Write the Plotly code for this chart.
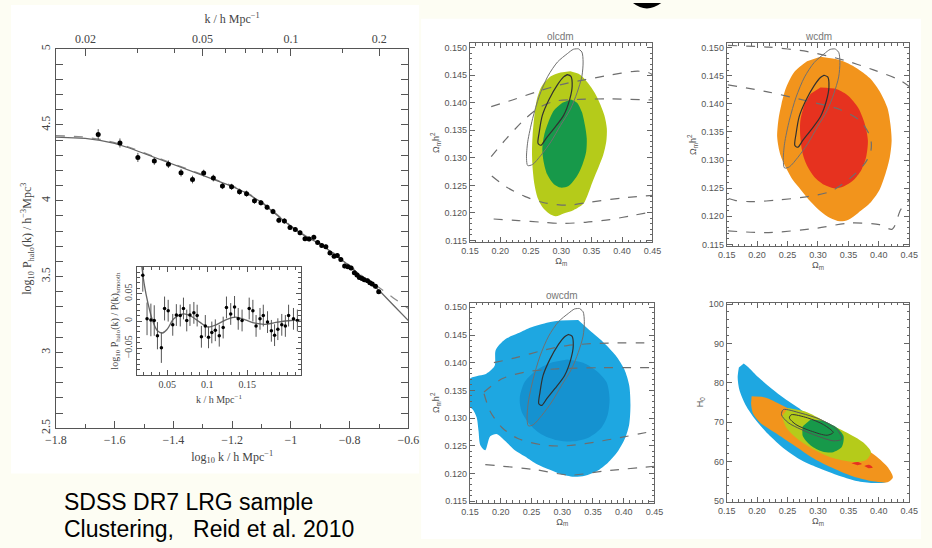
import plotly.graph_objects as go

W, H = 932, 548
def px(x): return x / W
def py(y): return 1 - y / H

# ---------------- main power spectrum panel ----------------
logk = [-1.656, -1.582, -1.521, -1.465, -1.417, -1.374, -1.335, -1.297, -1.264, -1.233,
        -1.202, -1.175, -1.151, -1.124, -1.102, -1.081, -1.061, -1.041, -1.022, -1.003,
        -0.985, -0.969, -0.952, -0.938, -0.922, -0.909, -0.895, -0.881, -0.867, -0.853,
        -0.842, -0.830, -0.817, -0.806, -0.795, -0.784, -0.775, -0.767, -0.758, -0.750,
        -0.739, -0.731, -0.723, -0.712, -0.701]
logP = [4.437, 4.381, 4.286, 4.262, 4.241, 4.185, 4.140, 4.183, 4.150, 4.097,
        4.092, 4.060, 4.047, 4.000, 3.987, 3.957, 3.929, 3.871, 3.867, 3.824,
        3.811, 3.789, 3.750, 3.748, 3.759, 3.725, 3.705, 3.697, 3.656, 3.634,
        3.639, 3.613, 3.570, 3.566, 3.557, 3.526, 3.510, 3.494, 3.488, 3.479,
        3.473, 3.460, 3.451, 3.436, 3.401]
errP = [0.035, 0.03, 0.03, 0.025, 0.025, 0.025, 0.025, 0.022, 0.022, 0.02,
        0.02, 0.02, 0.02, 0.02, 0.018, 0.018, 0.018, 0.018, 0.018, 0.016,
        0.016, 0.016, 0.016, 0.016, 0.016, 0.015, 0.015, 0.015, 0.015, 0.015,
        0.015, 0.015, 0.015, 0.015, 0.015, 0.015, 0.015, 0.015, 0.015, 0.015,
        0.015, 0.015, 0.015, 0.015, 0.015]

model_logk = [-1.80, -1.75, -1.70, -1.65, -1.60, -1.55, -1.50, -1.45, -1.40, -1.35, -1.30,
              -1.25, -1.20, -1.15, -1.10, -1.05, -1.00, -0.95, -0.90, -0.85, -0.80,
              -0.75, -0.70, -0.65, -0.60]
model_solid = [4.420, 4.418, 4.412, 4.398, 4.378, 4.348, 4.312, 4.275, 4.238, 4.200, 4.164,
               4.130, 4.095, 4.050, 3.990, 3.910, 3.830, 3.765, 3.715, 3.645, 3.570,
               3.485, 3.410, 3.310, 3.210]
model_dashed = [4.430, 4.427, 4.420, 4.405, 4.384, 4.353, 4.317, 4.279, 4.242, 4.204, 4.168,
                4.134, 4.099, 4.054, 3.994, 3.914, 3.834, 3.769, 3.719, 3.649, 3.574,
                3.492, 3.428, 3.358, 3.290]

top_k_ticks = [0.02, 0.05, 0.1, 0.2]
top_k_minor = [0.015, 0.03, 0.04, 0.06, 0.07, 0.08, 0.09, 0.15]

# inset (BAO wiggles)
ins_k = [0.0195, 0.0248, 0.0296, 0.0338, 0.0378, 0.0427, 0.0467, 0.0512, 0.0569, 0.0614,
         0.0663, 0.0703, 0.0744, 0.0784, 0.0833, 0.0874, 0.0927, 0.0976, 0.1016, 0.1057,
         0.1101, 0.1150, 0.1199, 0.1240, 0.1293, 0.1341, 0.1387, 0.1435, 0.1524, 0.1570,
         0.1610, 0.1659, 0.1700, 0.1753, 0.1801, 0.1841, 0.1882, 0.1931, 0.1976, 0.2016,
         0.2077, 0.2126]
ins_v = [0.084, 0.004, 0.002, 0.001, -0.027, -0.049, 0.023, 0.019, -0.007, 0.011,
         0.010, 0.023, 0.001, 0.011, 0.015, 0.010, -0.029, -0.009, -0.030, -0.021,
         -0.017, -0.027, -0.012, 0.025, 0.013, 0.026, 0.004, 0.001, 0.023, 0.019,
         -0.009, 0.004, 0.010, -0.002, -0.018, -0.026, -0.015, -0.007, -0.009, 0.010,
         0.004, 0.001]
ins_e = [0.03, 0.03, 0.03, 0.028, 0.025, 0.028, 0.022, 0.02, 0.02, 0.02,
         0.02, 0.02, 0.02, 0.02, 0.02, 0.02, 0.02, 0.02, 0.02, 0.02,
         0.02, 0.02, 0.02, 0.02, 0.02, 0.02, 0.02, 0.02, 0.02, 0.02,
         0.02, 0.02, 0.02, 0.02, 0.02, 0.02, 0.02, 0.02, 0.02, 0.02,
         0.02, 0.02]
ins_model_k = [0.0175, 0.0216, 0.0256, 0.0317, 0.0378, 0.0439, 0.0500, 0.0582, 0.0703,
               0.0784, 0.0906, 0.1009, 0.1110, 0.1232, 0.1354, 0.1476, 0.1598, 0.1720,
               0.1882, 0.2045, 0.2167]
ins_model_v = [0.109, 0.065, 0.035, 0.001, -0.018, -0.022, -0.015, 0.004, 0.013,
               0.010, -0.002, -0.011, -0.007, 0.002, 0.007, 0.002, -0.004, -0.006,
               -0.002, 0.001, 0.002]

# ---------------- contour panels ----------------
# CMB-like reference contours (same in the three Omega_m h^2 panels)
cmb_outer_om = [0.328, 0.334, 0.336, 0.334, 0.326, 0.315, 0.299, 0.283, 0.267, 0.253,
                0.245, 0.243, 0.245, 0.253, 0.264, 0.278, 0.294, 0.310, 0.320, 0.328]
cmb_outer_w = [0.1498, 0.1492, 0.1474, 0.1448, 0.1418, 0.1388, 0.1359, 0.1329, 0.1305, 0.1288,
               0.1286, 0.1299, 0.1329, 0.1371, 0.1412, 0.1448, 0.1474, 0.1489, 0.1497, 0.1498]
cmb_inner_om = [0.310, 0.316, 0.318, 0.314, 0.304, 0.288, 0.275, 0.267, 0.262, 0.264,
                0.269, 0.280, 0.294, 0.304, 0.310]
cmb_inner_w = [0.1451, 0.1448, 0.1430, 0.1406, 0.1377, 0.1353, 0.1335, 0.1323, 0.1326, 0.1347,
               0.1377, 0.1406, 0.1433, 0.1447, 0.1451]

# olcdm
olcdm_2s_om = [0.315, 0.331, 0.344, 0.355, 0.363, 0.371, 0.375, 0.374, 0.369, 0.361, 0.352,
               0.344, 0.336, 0.320, 0.304, 0.291, 0.280, 0.269, 0.261, 0.256, 0.253, 0.252,
               0.253, 0.256, 0.260, 0.268, 0.283, 0.299]
olcdm_2s_w = [0.1457, 0.1451, 0.1436, 0.1418, 0.1400, 0.1377, 0.1353, 0.1329, 0.1305, 0.1282,
              0.1258, 0.1234, 0.1216, 0.1205, 0.1199, 0.1194, 0.1199, 0.1211, 0.1228, 0.1252,
              0.1282, 0.1311, 0.1341, 0.1377, 0.1406, 0.1430, 0.1448, 0.1455]
olcdm_1s_om = [0.316, 0.326, 0.334, 0.339, 0.342, 0.341, 0.335, 0.326, 0.312, 0.299, 0.288,
               0.277, 0.271, 0.269, 0.272, 0.279, 0.288, 0.302]
olcdm_1s_w = [0.1406, 0.1400, 0.1383, 0.1359, 0.1335, 0.1311, 0.1288, 0.1267, 0.1249, 0.1246,
              0.1252, 0.1270, 0.1294, 0.1317, 0.1341, 0.1365, 0.1386, 0.1400]
olcdm_dash = [
    ([0.185, 0.22, 0.26, 0.30, 0.34, 0.38, 0.42, 0.44, 0.45],
     [0.1393, 0.1405, 0.1420, 0.1433, 0.1442, 0.1450, 0.1457, 0.1456, 0.1451]),
    ([0.185, 0.21, 0.24, 0.265, 0.29, 0.33, 0.38, 0.45],
     [0.1302, 0.1335, 0.1370, 0.1392, 0.1403, 0.1406, 0.1407, 0.1405]),
    ([0.186, 0.21, 0.24, 0.27, 0.31, 0.35, 0.40, 0.45],
     [0.1267, 0.1247, 0.1230, 0.1219, 0.1214, 0.1220, 0.1227, 0.1232]),
    ([0.189, 0.23, 0.27, 0.30, 0.34, 0.38, 0.42, 0.45],
     [0.1189, 0.1186, 0.1183, 0.1181, 0.1183, 0.1188, 0.1196, 0.1202]),
]

# wcdm
wcdm_2s_om = [0.304, 0.336, 0.363, 0.385, 0.401, 0.414, 0.419, 0.421, 0.418, 0.411, 0.401,
              0.385, 0.366, 0.350, 0.336, 0.320, 0.304, 0.288, 0.272, 0.259, 0.248, 0.238,
              0.233, 0.235, 0.240, 0.248, 0.262, 0.282]
wcdm_2s_w = [0.1484, 0.1478, 0.1464, 0.1446, 0.1423, 0.1393, 0.1364, 0.1335, 0.1305, 0.1276,
             0.1247, 0.1223, 0.1206, 0.1194, 0.1191, 0.1197, 0.1209, 0.1226, 0.1247, 0.1264,
             0.1285, 0.1310, 0.1340, 0.1372, 0.1400, 0.1430, 0.1458, 0.1476]
wcdm_1s_om = [0.304, 0.331, 0.350, 0.366, 0.377, 0.382, 0.379, 0.371, 0.358, 0.342, 0.326,
              0.310, 0.294, 0.283, 0.275, 0.271, 0.271, 0.278, 0.288]
wcdm_1s_w = [0.1429, 0.1426, 0.1414, 0.1393, 0.1364, 0.1335, 0.1305, 0.1282, 0.1264, 0.1253,
             0.1250, 0.1256, 0.1270, 0.1288, 0.1311, 0.1341, 0.1370, 0.1399, 0.1418]
wcdm_dash = [
    ([0.152, 0.219, 0.283, 0.342, 0.390, 0.433, 0.450],
     [0.1504, 0.1501, 0.1493, 0.1478, 0.1461, 0.1443, 0.1431]),
    ([0.152, 0.219, 0.283, 0.336, 0.369, 0.386, 0.387, 0.377, 0.352, 0.320, 0.283, 0.235,
      0.192, 0.165, 0.152],
     [0.1434, 0.1421, 0.1405, 0.1390, 0.1370, 0.1341, 0.1317, 0.1294, 0.1267, 0.1244, 0.1235,
      0.1229, 0.1226, 0.1228, 0.1232]),
    ([0.152, 0.219, 0.299, 0.352, 0.401, 0.422, 0.436, 0.450],
     [0.1174, 0.1171, 0.1179, 0.1188, 0.1185, 0.1177, 0.1212, 0.1229]),
]

# owcdm
owcdm_2s_om = [0.326, 0.345, 0.366, 0.387, 0.401, 0.409, 0.411, 0.409, 0.402, 0.390, 0.374,
               0.356, 0.337, 0.319, 0.297, 0.279, 0.260, 0.239, 0.223, 0.207, 0.194, 0.183,
               0.175, 0.167, 0.164, 0.161, 0.155, 0.150, 0.150, 0.162, 0.175, 0.190, 0.192,
               0.207, 0.228, 0.250, 0.271, 0.297]
owcdm_2s_w = [0.1477, 0.1458, 0.1438, 0.1413, 0.1388, 0.1359, 0.1324, 0.1289, 0.1263, 0.1239,
              0.1219, 0.1204, 0.1196, 0.1194, 0.1199, 0.1207, 0.1216, 0.1231, 0.1242, 0.1259,
              0.1271, 0.1267, 0.1242, 0.1251, 0.1277, 0.1301, 0.1315, 0.1321, 0.1371, 0.1376,
              0.1379, 0.1394, 0.1423, 0.1442, 0.1453, 0.1464, 0.1471, 0.1476]
owcdm_1s_om = [0.308, 0.334, 0.356, 0.372, 0.377, 0.374, 0.364, 0.345, 0.319, 0.292, 0.266,
               0.247, 0.234, 0.231, 0.239, 0.260, 0.284]
owcdm_1s_w = [0.1406, 0.1400, 0.1385, 0.1365, 0.1336, 0.1306, 0.1283, 0.1266, 0.1258, 0.1260,
              0.1271, 0.1289, 0.1312, 0.1336, 0.1365, 0.1388, 0.1401]
owcdm_dash = [
    ([0.189, 0.228, 0.271, 0.308, 0.361, 0.450],
     [0.1400, 0.1410, 0.1423, 0.1431, 0.1435, 0.1436]),
    ([0.173, 0.202, 0.239, 0.292, 0.361, 0.450],
     [0.1347, 0.1371, 0.1383, 0.1389, 0.1391, 0.1391]),
    ([0.173, 0.183, 0.202, 0.228, 0.271, 0.308, 0.366, 0.450],
     [0.1344, 0.1312, 0.1283, 0.1263, 0.1251, 0.1250, 0.1259, 0.1277]),
    ([0.175, 0.255, 0.313, 0.366, 0.450],
     [0.1216, 0.1207, 0.1197, 0.1204, 0.1213]),
]

# H0 vs Omega_m panel
h0_blue_om = [0.178, 0.186, 0.202, 0.224, 0.245, 0.272, 0.299, 0.325, 0.352, 0.379, 0.406,
              0.419, 0.411, 0.390, 0.363, 0.331, 0.299, 0.272, 0.245, 0.218, 0.197, 0.181,
              0.171, 0.168, 0.170]
h0_blue_h = [84.9, 83.9, 81.4, 78.5, 76.0, 73.2, 69.9, 66.5, 63.2, 59.9, 57.0,
             55.8, 54.8, 54.6, 55.1, 56.6, 58.5, 60.4, 63.2, 67.0, 70.7, 74.4,
             78.1, 81.4, 83.9]
h0_orange_om = [0.191, 0.213, 0.240, 0.272, 0.299, 0.325, 0.358, 0.390, 0.414, 0.423,
                0.414, 0.390, 0.358, 0.325, 0.293, 0.261, 0.229, 0.205, 0.193, 0.190]
h0_orange_h = [76.6, 76.3, 74.4, 71.9, 69.7, 67.5, 64.9, 62.0, 58.7, 56.0,
               54.8, 55.0, 56.2, 58.3, 60.8, 64.1, 67.4, 69.9, 72.3, 74.8]
h0_lime_om = [0.251, 0.283, 0.315, 0.347, 0.374, 0.387, 0.379, 0.358, 0.325, 0.293, 0.267,
              0.248, 0.241]
h0_lime_h = [73.6, 72.5, 69.9, 67.4, 64.9, 62.4, 60.4, 59.9, 60.9, 63.1, 65.7, 68.6, 71.5]
h0_green_om = [0.288, 0.309, 0.331, 0.342, 0.339, 0.325, 0.307, 0.288, 0.275, 0.275]
h0_green_h = [70.7, 70.3, 68.6, 66.5, 63.7, 62.4, 62.6, 64.1, 66.5, 69.0]
h0_red_om = [0.355, 0.365, 0.372, 0.365]
h0_red_h = [59.6, 59.9, 59.4, 59.1]
h0_red2_om = [0.376, 0.384, 0.390, 0.383]
h0_red2_h = [58.9, 59.2, 58.5, 58.3]
h0_cmb_outer_om = [0.243, 0.272, 0.304, 0.331, 0.339, 0.325, 0.299, 0.272, 0.251, 0.240, 0.243]
h0_cmb_outer_h = [73.2, 72.3, 70.7, 68.2, 65.7, 65.3, 66.5, 68.2, 69.9, 71.9, 73.2]
h0_cmb_inner_om = [0.256, 0.283, 0.309, 0.325, 0.315, 0.288, 0.264, 0.253, 0.256]
h0_cmb_inner_h = [71.9, 71.1, 69.4, 67.4, 66.7, 67.8, 69.4, 71.1, 71.9]

LIME, DGREEN = '#b5cb1a', '#17994a'
ORANGE, RED = '#f2941c', '#e6321f'
BLUE1, BLUE2 = '#1ea7e1', '#1592d0'

fig = go.Figure()

# main panel traces
fig.add_trace(go.Scatter(x=model_logk, y=model_dashed, mode='lines', xaxis='x', yaxis='y',
                         line=dict(color='#8c8c8c', width=1.3, dash='dash')))
fig.add_trace(go.Scatter(x=model_logk, y=model_solid, mode='lines', xaxis='x', yaxis='y',
                         line=dict(color='#666666', width=1.3)))
fig.add_trace(go.Scatter(x=logk, y=logP, mode='markers', xaxis='x', yaxis='y',
                         marker=dict(color='black', size=5),
                         error_y=dict(type='data', array=errP, color='#555', thickness=1, width=0)))
fig.add_trace(go.Scatter(x=[0.02, 0.2], y=[2.5, 2.5], mode='markers', xaxis='x2', yaxis='y',
                         marker=dict(opacity=0), hoverinfo='skip'))
# inset
fig.add_trace(go.Scatter(x=ins_model_k, y=ins_model_v, mode='lines', xaxis='x7', yaxis='y7',
                         line=dict(color='#666', width=1.3, shape='spline')))
fig.add_trace(go.Scatter(x=ins_k, y=ins_v, mode='markers', xaxis='x7', yaxis='y7',
                         marker=dict(color='black', size=3.5),
                         error_y=dict(type='data', array=ins_e, color='#555', thickness=1, width=0)))

def poly(xs, ys, color, ax):
    fig.add_trace(go.Scatter(x=xs, y=ys, mode='lines', fill='toself', fillcolor=color,
                             line=dict(width=0, color=color, shape='spline', smoothing=0.8),
                             xaxis='x' + ax, yaxis='y' + ax, hoverinfo='skip'))

def line(xs, ys, ax, color='#444', width=1.0, dash='solid'):
    fig.add_trace(go.Scatter(x=xs, y=ys, mode='lines',
                             line=dict(width=width, color=color, dash=dash, shape='spline', smoothing=0.8),
                             xaxis='x' + ax, yaxis='y' + ax, hoverinfo='skip'))

def closed(a):
    return list(a) + [a[0]]

for ax, outer, inner, dashes in [
        ('3', (olcdm_2s_om, olcdm_2s_w, LIME), (olcdm_1s_om, olcdm_1s_w, DGREEN), olcdm_dash),
        ('4', (wcdm_2s_om, wcdm_2s_w, ORANGE), (wcdm_1s_om, wcdm_1s_w, RED), wcdm_dash),
        ('5', (owcdm_2s_om, owcdm_2s_w, BLUE1), (owcdm_1s_om, owcdm_1s_w, BLUE2), owcdm_dash)]:
    poly(*outer, ax)
    poly(*inner, ax)
    for dx, dy in dashes:
        line(dx, dy, ax, color='#6e6e6e', width=1.2, dash='dash')
    line(closed(cmb_outer_om), closed(cmb_outer_w), ax, color='#707070', width=1.0)
    line(closed(cmb_inner_om), closed(cmb_inner_w), ax, color='#303030', width=1.2)

poly(h0_blue_om, h0_blue_h, BLUE1, '6')
poly(h0_orange_om, h0_orange_h, ORANGE, '6')
poly(h0_lime_om, h0_lime_h, LIME, '6')
poly(h0_green_om, h0_green_h, DGREEN, '6')
poly(h0_red_om, h0_red_h, RED, '6')
poly(h0_red2_om, h0_red2_h, RED, '6')
line(h0_cmb_outer_om, h0_cmb_outer_h, '6', color='#555', width=1.0)
line(h0_cmb_inner_om, h0_cmb_inner_h, '6', color='#333', width=1.0)

# ---------------- layout ----------------
SERIF = 'Liberation Serif'
SANS = 'Liberation Sans'
main_ax = dict(showline=True, linecolor='#555', linewidth=1, ticks='inside', ticklen=7,
               tickcolor='#555', showgrid=False, zeroline=False,
               tickfont=dict(family=SERIF, size=12, color='#444'))

lay = dict(
    width=W, height=H, margin=dict(l=0, r=0, t=0, b=0), showlegend=False,
    paper_bgcolor='#fdfdf3', plot_bgcolor='white',
    xaxis=dict(main_ax, domain=[px(46), px(407)], range=[-1.8, -0.6], anchor='y',
               tick0=-1.8, dtick=0.2, mirror=True,
               minor=dict(ticks='inside', ticklen=4, dtick=0.1, tickcolor='#555'),
               title=dict(text='log<sub>10</sub> k / h Mpc<sup>−1</sup>', standoff=6,
                          font=dict(family=SERIF, size=12, color='#444'))),
    xaxis2=dict(main_ax, type='log', range=[-1.8, -0.6], overlaying='x', side='top', anchor='y',
                tickvals=top_k_ticks, ticktext=[str(v) for v in top_k_ticks],
                minor=dict(ticks='inside', ticklen=4, tickvals=top_k_minor, tickcolor='#555'),
                title=dict(text='k / h Mpc<sup>−1</sup>', standoff=6,
                           font=dict(family=SERIF, size=12, color='#444'))),
    yaxis=dict(main_ax, domain=[py(432), py(45)], range=[2.5, 5], anchor='x',
               tick0=2.5, dtick=0.5, tickangle=-90, mirror='allticks',
               minor=dict(ticks='inside', ticklen=4, dtick=0.1, tickcolor='#555'),
               title=dict(text='log<sub>10</sub> P<sub>halo</sub>(k) / h<sup>−3</sup>Mpc<sup>3</sup>',
                          standoff=4, font=dict(family=SERIF, size=12, color='#444'))),
    xaxis7=dict(main_ax, domain=[px(129), px(297)], range=[0.0122, 0.2171], anchor='y7',
                tickvals=[0.05, 0.1, 0.15], ticktext=['0.05', '0.1', '0.15'], mirror='allticks',
                ticklen=5, tickfont=dict(family=SERIF, size=10, color='#444'),
                minor=dict(ticks='inside', ticklen=3, dtick=0.01, tickcolor='#555'),
                title=dict(text='k / h Mpc<sup>−1</sup>', standoff=6,
                           font=dict(family=SERIF, size=10, color='#444'))),
    yaxis7=dict(main_ax, domain=[py(378), py(267)], range=[-0.1, 0.1], anchor='x7',
                tickvals=[-0.05, 0, 0.05], ticktext=['−0.05', '0', '0.05'], tickangle=-90,
                mirror='allticks', ticklen=5, tickfont=dict(family=SERIF, size=10, color='#444'),
                minor=dict(ticks='inside', ticklen=3, dtick=0.01, tickcolor='#555'),
                title=dict(text='log<sub>10</sub> P<sub>halo</sub>(k) / P(k)<sub>smooth</sub>',
                           standoff=2, font=dict(family=SERIF, size=10, color='#444'))),
)

pan_ax = dict(showline=True, linecolor='#666', linewidth=1, ticks='inside', ticklen=5,
              tickcolor='#666', showgrid=False, zeroline=False, mirror='allticks',
              tickfont=dict(family=SANS, size=9, color='#555'))
panels = {
    '3': ([470, 657], [242, 39], [0.1147, 0.1508]),
    '4': ([733, 920], [246, 39], [0.1147, 0.1508]),
    '5': ([470, 659], [508, 304], [0.1147, 0.1508]),
    '6': ([733, 920], [507, 304], [49.8, 100.3]),
}
for ax, (xs, ys, yr) in panels.items():
    is_h0 = ax == '6'
    lay['xaxis' + ax] = dict(pan_ax, domain=[px(xs[0]), px(xs[1])], range=[0.15, 0.45],
                             anchor='y' + ax, tick0=0.15, dtick=0.05, tickformat='.2f',
                             minor=dict(ticks='inside', ticklen=2.5, dtick=0.01, tickcolor='#666'),
                             title=dict(text='Ω<sub>m</sub>', standoff=2,
                                        font=dict(family=SANS, size=9, color='#555')))
    lay['yaxis' + ax] = dict(pan_ax, domain=[py(ys[0]), py(ys[1])], range=yr,
                             anchor='x' + ax,
                             tick0=50 if is_h0 else 0.115, dtick=10 if is_h0 else 0.005,
                             tickformat='d' if is_h0 else '.3f',
                             minor=dict(ticks='inside', ticklen=2.5, dtick=2 if is_h0 else 0.001,
                                        tickcolor='#666'),
                             title=dict(text='H<sub>0</sub>' if is_h0 else 'Ω<sub>m</sub>h<sup>2</sup>',
                                        standoff=3, font=dict(family=SANS, size=9, color='#555')))

fig.update_layout(**lay)

ann = [
    dict(text='olcdm', x=px(563), y=py(32)),
    dict(text='wcdm', x=px(827), y=py(32)),
    dict(text='owcdm', x=px(564), y=py(296)),
]
for a in ann:
    fig.add_annotation(xref='paper', yref='paper', showarrow=False, xanchor='center', yanchor='middle',
                       font=dict(family=SANS, size=10, color='#777'), **a)
fig.add_annotation(xref='paper', yref='paper', x=px(52), y=py(507), text='SDSS DR7 LRG sample',
                   showarrow=False, xanchor='left', yanchor='middle',
                   font=dict(family='Liberation Sans', size=23, color='black'))
fig.add_annotation(xref='paper', yref='paper', x=px(52), y=py(535), text='Clustering,   Reid et al. 2010',
                   showarrow=False, xanchor='left', yanchor='middle',
                   font=dict(family='Liberation Sans', size=23, color='black'))

# white image backgrounds and the cut-off title glyph
fig.add_shape(type='rect', xref='paper', yref='paper', x0=0, x1=px(418), y0=py(478), y1=1,
              fillcolor='white', line=dict(width=0), layer='below')
fig.add_shape(type='rect', xref='paper', yref='paper', x0=px(420), x1=1, y0=py(545), y1=py(14),
              fillcolor='white', line=dict(width=0), layer='below')
fig.add_shape(type='path', xref='paper', yref='paper',
              path=f'M {px(637)},{py(-2)} Q {px(651)},{py(9)} {px(666)},{py(-2)} Z',
              fillcolor='black', line=dict(width=0))

fig.write_html('out.html')
